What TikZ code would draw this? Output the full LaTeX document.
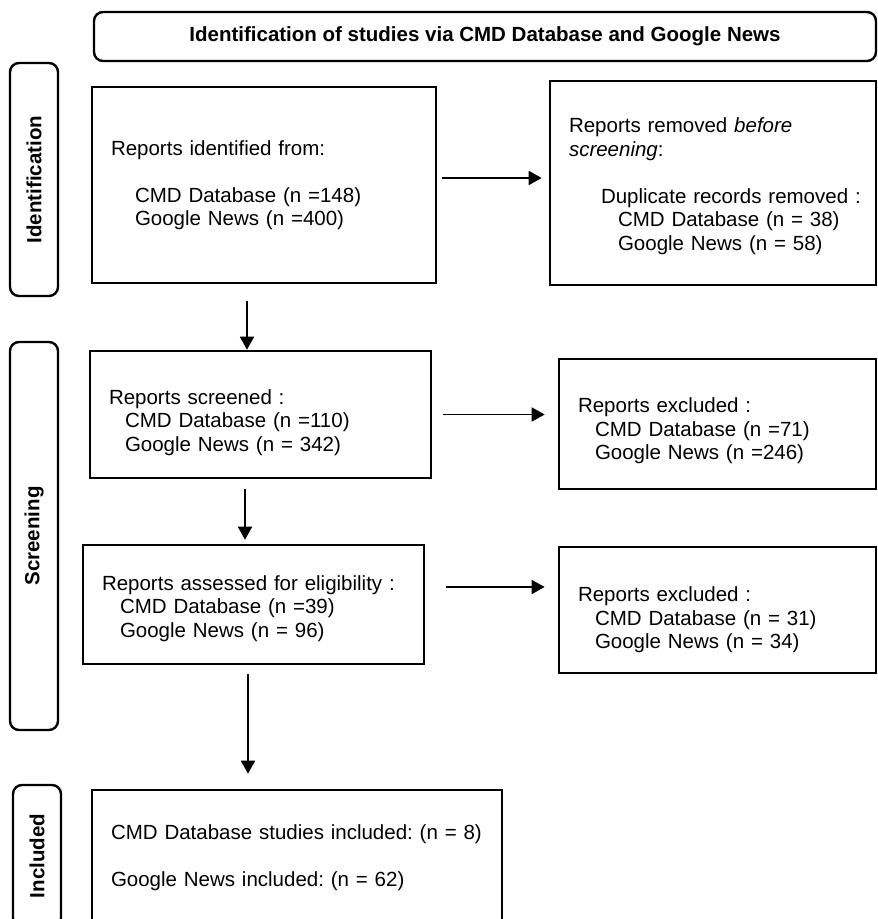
\documentclass[tikz,border=0pt]{standalone}
\usepackage{fontspec}
\setmainfont{Liberation Sans}
\usetikzlibrary{arrows.meta,positioning}

\begin{document}
\begin{tikzpicture}[
    x=1pt, y=-1pt,
    phase/.style={draw, line width=2.4pt, rounded corners=9pt, inner sep=0pt, font=\bfseries},
    stage/.style={draw, line width=2.6pt, inner xsep=19pt, inner ysep=0pt, align=left},
    arr/.style={line width=1.8pt, -{Triangle[length=13pt,width=14pt]}}
]
    \fontsize{20.5}{23.5}\selectfont\frenchspacing
    \useasboundingbox (0,0) rectangle (878,919);
    \clip (0,0) rectangle (878,919);

    % Phase headers
    \node[phase, minimum width=782, minimum height=49] (title) at (485,36.5) {Identification of studies via CMD Database and Google News};
    \node[phase, rotate=90, minimum width=233, minimum height=48] (pid) at (34,179.5) {Identification};
    \node[phase, rotate=90, minimum width=388, minimum height=48] (pscr) at (34,536) {Screening};
    \node[phase, rotate=90, minimum width=142, minimum height=48] (pinc) at (37,856) {Included};

    % Boxes (the \rule pushes the text block down a little)
    \node[stage, minimum width=344, minimum height=196, text width=306] (ident) at (264,185)
        {Reports identified from:\\[23.5pt]
         \hspace*{24pt}CMD Database (n =148)\\
         \hspace*{24pt}Google News (n =400)};
    \node[stage, minimum width=326, minimum height=204, text width=288] (removed) at (713,183)
        {\rule{0pt}{21pt}Reports removed \textit{before}\\
         \textit{screening}:\\[23.5pt]
         \mbox{\hspace*{32pt}Duplicate records removed :}\\
         \hspace*{49pt}CMD Database (n = 38)\\
         \hspace*{49pt}Google News (n = 58)};
    \node[stage, minimum width=341, minimum height=127, text width=303] (screen) at (260.5,414.5)
        {\rule{0pt}{31pt}Reports screened :\\
         \hspace*{16pt}CMD Database (n =110)\\
         \hspace*{16pt}Google News (n = 342)};
    \node[stage, minimum width=317, minimum height=130, text width=279] (excl1) at (717.5,424)
        {\rule{0pt}{29pt}Reports excluded :\\
         \hspace*{17pt}CMD Database (n =71)\\
         \hspace*{17pt}Google News (n =246)};
    \node[stage, minimum width=341, minimum height=119, text width=303] (elig) at (253.5,604.5)
        {\rule{0pt}{23pt}Reports assessed for eligibility :\\
         \hspace*{18pt}CMD Database (n =39)\\
         \hspace*{18pt}Google News (n = 96)};
    \node[stage, minimum width=317, minimum height=126, text width=279] (excl2) at (717.5,610)
        {\rule{0pt}{35pt}Reports excluded :\\
         \hspace*{17pt}CMD Database (n = 31)\\
         \hspace*{17pt}Google News (n = 34)};
    \node[stage, minimum width=410, minimum height=135, text width=372] (incl) at (297,857.5)
        {CMD Database studies included: (n = 8)\\[23.5pt]
         Google News included: (n = 62)};

    % Arrows
    \draw[arr] ([shift={(-17pt,-17pt)}]ident.south) -- ([xshift=-17pt]ident.south |- screen.north);
    \draw[arr, shorten >=4pt] ([shift={(-15.5pt,-10pt)}]screen.south) -- ([xshift=-15.5pt]screen.south |- elig.north);
    \draw[arr, shorten >=15pt] ([shift={(-5.5pt,-9pt)}]elig.south) -- ([xshift=-5.5pt]elig.south |- incl.north);
    \draw[arr, shorten <=5pt, shorten >=7pt] ([yshift=7pt]ident.east) -- ([yshift=7pt]ident.east -| removed.west);
    \draw[arr, shorten <=11pt, shorten >=13pt] (screen.east) -- (screen.east -| excl1.west);
    \draw[arr, shorten <=21pt, shorten >=13pt] ([yshift=17.5pt]elig.east) -- ([yshift=17.5pt]elig.east -| excl2.west);
\end{tikzpicture}
\end{document}
